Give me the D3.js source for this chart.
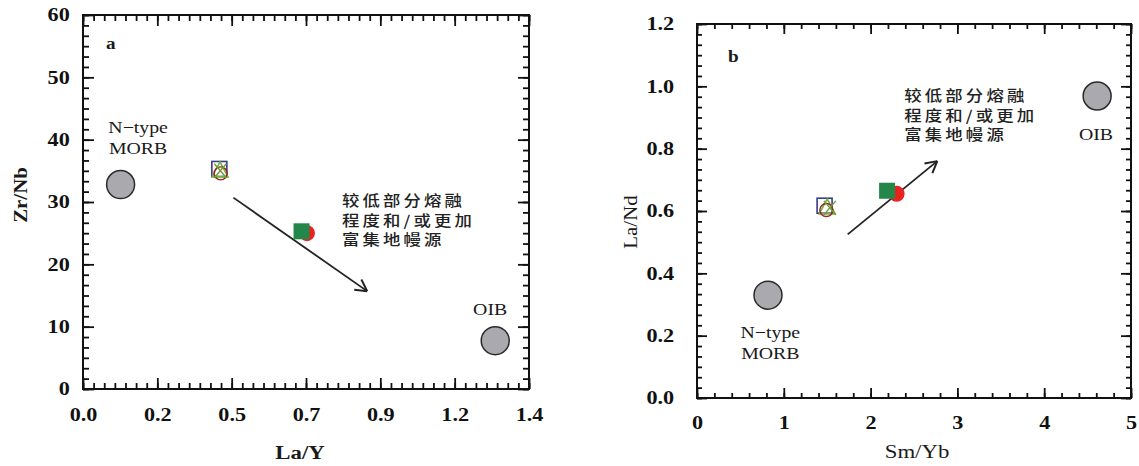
<!DOCTYPE html>
<html>
<head>
<meta charset="utf-8">
<script src="https://cdn.jsdelivr.net/npm/d3@7"></script>
<style>
  body { margin: 0; background: #fff; }
  svg { display: block; }
</style>
</head>
<body>
<div id="chart"></div>
<script>
// ---- data ----
// panel a : La/Y vs Zr/Nb
const aRefNames = ["N-type MORB", "OIB"];
const aRefX = [0.118, 1.294];
const aRefY = [32.8, 7.75];
const aOpenKinds = ["square", "triangle", "circle", "cross"];
const aOpenX = [0.428, 0.430, 0.432, 0.431];
const aOpenY = [35.3, 35.0, 34.6, 35.0];
const aFillKinds = ["redcircle", "greensquare"];
const aFillX = [0.703, 0.686];
const aFillY = [25.0, 25.3];
const aArrow = [[0.472, 30.7], [0.892, 15.7]];

// panel b : Sm/Yb vs La/Nd
const bRefNames = ["N-type MORB", "OIB"];
const bRefX = [0.818, 4.61];
const bRefY = [0.330, 0.969];
const bOpenKinds = ["square", "triangle", "circle", "cross"];
const bOpenX = [1.47, 1.50, 1.49, 1.53];
const bOpenY = [0.617, 0.610, 0.603, 0.610];
const bFillKinds = ["redcircle", "greensquare"];
const bFillX = [2.30, 2.19];
const bFillY = [0.655, 0.665];
const bArrow = [[1.736, 0.525], [2.768, 0.760]];

const noteLines = ["较低部分熔融", "程度和/或更加", "富集地幔源"];

// x ticks of panel a are sixths of 1.4 printed with one decimal
const aXTicks = d3.range(7).map(i => i * 1.4 / 6);
const aXMinor = d3.range(43).map(i => i * 1.4 / 42);
const aYTicks = [0, 10, 20, 30, 40, 50, 60];
const aYMinor = d3.range(37).map(i => i * 10 / 6);
const bXTicks = [0, 1, 2, 3, 4, 5];
const bXMinor = d3.range(26).map(i => i * 0.2);
const bYTicks = [0, 0.2, 0.4, 0.6, 0.8, 1.0, 1.2];
const bYMinor = d3.range(37).map(i => i * 0.2 / 6);

const W = 1139, H = 466;
const serif = "'Liberation Serif', 'Times New Roman', serif";
const stretch = 1.2;

const svg = d3.select('#chart').append('svg')
    .attr('width', W)
    .attr('height', H);

function stretchedText(g, x, y, txt, size, weight, anchor) {
    return g.append('text')
        .attr('transform', 'translate(' + x + ',' + y + ') scale(' + stretch + ',1)')
        .attr('text-anchor', anchor || 'middle')
        .attr('dominant-baseline', 'central')
        .attr('font-family', serif)
        .attr('font-size', size + 'px')
        .attr('font-weight', weight || 'normal')
        .attr('fill', '#1a1a1a')
        .text(txt);
}

function drawPanel(p) {
    const x = d3.scaleLinear().domain(p.xDomain).range([p.left, p.right]);
    const y = d3.scaleLinear().domain(p.yDomain).range([p.bottom, p.top]);
    const g = svg.append('g');

    // minor ticks on all four sides
    const minorSets = [
        [d3.axisBottom(x).tickValues(p.xMinor), 'translate(0,' + p.bottom + ')', p.minor],
        [d3.axisTop(x).tickValues(p.xMinor), 'translate(0,' + p.top + ')', p.minor],
        [d3.axisLeft(y).tickValues(p.yMinor), 'translate(' + p.left + ',0)', p.minor],
        [d3.axisRight(y).tickValues(p.yMinor), 'translate(' + p.right + ',0)', p.minor]
    ];
    minorSets.forEach(function (m) {
        g.append('g').attr('transform', m[1])
            .call(m[0].tickSize(-m[2]).tickFormat(''))
            .call(s => s.select('.domain').remove())
            .selectAll('line').attr('stroke', '#111').attr('stroke-width', 1.8);
    });

    // major ticks, labels on bottom and left
    const xAxis = d3.axisBottom(x).tickValues(p.xTicks).tickSize(-p.major)
        .tickPadding(p.xPad).tickFormat(p.xFormat);
    const yAxis = d3.axisLeft(y).tickValues(p.yTicks).tickSize(-p.major)
        .tickPadding(p.yPad).tickFormat(p.yFormat);

    const gx = g.append('g').attr('transform', 'translate(0,' + p.bottom + ')').call(xAxis);
    const gy = g.append('g').attr('transform', 'translate(' + p.left + ',0)').call(yAxis);
    g.append('g').attr('transform', 'translate(0,' + p.top + ')')
        .call(d3.axisTop(x).tickValues(p.xTicks).tickSize(-p.major).tickFormat(''));
    g.append('g').attr('transform', 'translate(' + p.right + ',0)')
        .call(d3.axisRight(y).tickValues(p.yTicks).tickSize(-p.major).tickFormat(''));

    g.selectAll('.domain').remove();
    g.selectAll('.tick line').attr('stroke', '#111').attr('stroke-width', 1.8);
    [gx, gy].forEach(function (a) {
        a.selectAll('text')
            .attr('font-family', serif)
            .attr('font-size', '18.5px')
            .attr('font-weight', 'bold')
            .attr('fill', '#111')
            .attr('transform', 'scale(' + stretch + ',1)');
    });

    // frame
    g.append('rect')
        .attr('x', p.left).attr('y', p.top)
        .attr('width', p.right - p.left).attr('height', p.bottom - p.top)
        .attr('fill', 'none').attr('stroke', '#111').attr('stroke-width', 2);

    // axis titles
    stretchedText(g, (p.left + p.right) / 2 + p.xTitleShift, p.xTitleY, p.xTitle, 19, p.titleWeight);
    g.append('text')
        .attr('transform', 'translate(' + p.yTitleX + ',' + ((p.top + p.bottom) / 2 + p.yTitleShift) + ') rotate(-90) scale(1.1,1)')
        .attr('text-anchor', 'middle')
        .attr('dominant-baseline', 'central')
        .attr('font-family', serif)
        .attr('font-size', '19px')
        .attr('font-weight', p.titleWeight)
        .attr('fill', '#1a1a1a')
        .text(p.yTitle);

    // panel letter
    stretchedText(g, p.left + p.tagDx, p.top + p.tagDy, p.tag, 16, 'bold', 'start');

    // reference end-members
    p.refNames.forEach(function (n, i) {
        g.append('circle')
            .attr('cx', x(p.refX[i])).attr('cy', y(p.refY[i]))
            .attr('r', 14)
            .attr('fill', '#a9a9ae')
            .attr('stroke', '#2a2a2a').attr('stroke-width', 1.5);
    });
    p.refLabels.forEach(function (l) {
        l.lines.forEach(function (t, j) {
            stretchedText(g, x(l.x), y(l.y) + j * 21, t, 16.5);
        });
    });

    // arrow
    const x1 = x(p.arrow[0][0]), y1 = y(p.arrow[0][1]);
    const x2 = x(p.arrow[1][0]), y2 = y(p.arrow[1][1]);
    g.append('line')
        .attr('x1', x1).attr('y1', y1).attr('x2', x2).attr('y2', y2)
        .attr('stroke', '#222').attr('stroke-width', 1.8);
    const ang = Math.atan2(y2 - y1, x2 - x1);
    const head = 13;
    [-0.5, 0.5].forEach(function (d) {
        g.append('line')
            .attr('x1', x2).attr('y1', y2)
            .attr('x2', x2 - head * Math.cos(ang + d))
            .attr('y2', y2 - head * Math.sin(ang + d))
            .attr('stroke', '#222').attr('stroke-width', 2);
    });

    // note text
    noteLines.forEach(function (t, j) {
        g.append('text')
            .attr('transform', 'translate(' + x(p.noteX) + ',' + (y(p.noteY) + j * 19.5) + ') scale(1.2,1)')
            .attr('dominant-baseline', 'central')
            .attr('font-family', "'Noto Sans CJK SC', sans-serif")
            .attr('font-size', '14.5px')
            .attr('font-weight', 500)
            .attr('letter-spacing', '2.6px')
            .attr('fill', '#222')
            .text(t);
    });

    // filled samples
    p.fillKinds.forEach(function (k, i) {
        const cx = x(p.fillX[i]), cy = y(p.fillY[i]);
        if (k === 'redcircle') {
            g.append('circle').attr('cx', cx).attr('cy', cy).attr('r', 8)
                .attr('fill', '#e8221f');
        } else {
            g.append('rect').attr('x', cx - 8).attr('y', cy - 8)
                .attr('width', 16).attr('height', 16)
                .attr('fill', '#23874a');
        }
    });

    // open samples
    p.openKinds.forEach(function (k, i) {
        const cx = x(p.openX[i]), cy = y(p.openY[i]);
        if (k === 'square') {
            g.append('rect').attr('x', cx - 7.5).attr('y', cy - 7.5)
                .attr('width', 15).attr('height', 15)
                .attr('fill', 'none').attr('stroke', '#3b3b86').attr('stroke-width', 1.6);
        } else if (k === 'circle') {
            g.append('circle').attr('cx', cx).attr('cy', cy).attr('r', 6.5)
                .attr('fill', 'none').attr('stroke', '#9b2428').attr('stroke-width', 1.4);
        } else if (k === 'triangle') {
            g.append('path')
                .attr('d', 'M' + cx + ',' + (cy - 9) + 'L' + (cx + 8) + ',' + (cy + 6) + 'L' + (cx - 8) + ',' + (cy + 6) + 'Z')
                .attr('fill', 'none').attr('stroke', '#6db33f').attr('stroke-width', 1.6);
        } else {
            g.append('path')
                .attr('d', 'M' + (cx - 6) + ',' + (cy - 7) + 'L' + (cx + 6) + ',' + (cy + 7) +
                    'M' + (cx + 6) + ',' + (cy - 7) + 'L' + (cx - 6) + ',' + (cy + 7))
                .attr('fill', 'none').attr('stroke', '#6f9f3a').attr('stroke-width', 1.5);
        }
    });
}

drawPanel({
    left: 83, right: 529, top: 15, bottom: 389,
    xDomain: [0, 1.4], yDomain: [0, 60],
    xTicks: aXTicks, xMinor: aXMinor, yTicks: aYTicks, yMinor: aYMinor,
    xFormat: d3.format('.1f'), yFormat: d3.format('d'),
    major: 11, minor: 6, xPad: 19, yPad: 11,
    xTitle: 'La/Y', xTitleY: 453, xTitleShift: -6, titleWeight: 'bold',
    yTitle: 'Zr/Nb', yTitleX: 20, yTitleShift: -7,
    tag: 'a', tagDx: 23, tagDy: 29,
    refNames: aRefNames, refX: aRefX, refY: aRefY,
    refLabels: [
        {lines: ['N\u2212type', 'MORB'], x: 0.173, y: 41.9},
        {lines: ['OIB'], x: 1.278, y: 12.7}
    ],
    arrow: aArrow, noteX: 0.813, noteY: 30.3,
    openKinds: aOpenKinds, openX: aOpenX, openY: aOpenY,
    fillKinds: aFillKinds, fillX: aFillX, fillY: aFillY
});

drawPanel({
    left: 697, right: 1131, top: 24, bottom: 398,
    xDomain: [0, 5], yDomain: [0, 1.2],
    xTicks: bXTicks, xMinor: bXMinor, yTicks: bYTicks, yMinor: bYMinor,
    xFormat: d3.format('d'), yFormat: d3.format('.1f'),
    major: 10, minor: 5, xPad: 18, yPad: 19,
    xTitle: 'Sm/Yb', xTitleY: 452, xTitleShift: 3, titleWeight: 'normal',
    yTitle: 'La/Nd', yTitleX: 630, yTitleShift: 11,
    tag: 'b', tagDx: 31, tagDy: 33,
    refNames: bRefNames, refX: bRefX, refY: bRefY,
    refLabels: [
        {lines: ['N\u2212type', 'MORB'], x: 0.845, y: 0.209},
        {lines: ['OIB'], x: 4.597, y: 0.844}
    ],
    arrow: bArrow, noteX: 2.389, noteY: 0.972,
    openKinds: bOpenKinds, openX: bOpenX, openY: bOpenY,
    fillKinds: bFillKinds, fillX: bFillX, fillY: bFillY
});
</script>
</body>
</html>
